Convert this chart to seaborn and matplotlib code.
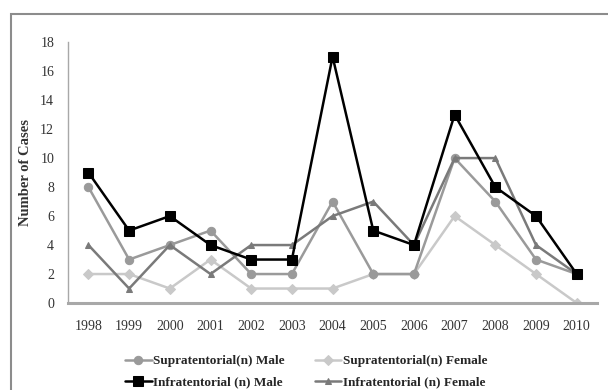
import matplotlib
matplotlib.use("Agg")
import matplotlib.pyplot as plt
import seaborn as sns
import pandas as pd
from matplotlib.patches import Rectangle

years = ["1998", "1999", "2000", "2001", "2002", "2003", "2004",
         "2005", "2006", "2007", "2008", "2009", "2010"]
supra_male = [8, 3, 4, 5, 2, 2, 7, 2, 2, 10, 7, 3, 2]
supra_female = [2, 2, 1, 3, 1, 1, 1, 2, 2, 6, 4, 2, 0]
infra_male = [9, 5, 6, 4, 3, 3, 17, 5, 4, 13, 8, 6, 2]
infra_female = [4, 1, 4, 2, 4, 4, 6, 7, 4, 10, 10, 4, 2]

series_names = ["Supratentorial(n) Male", "Supratentorial(n) Female",
                "Infratentorial (n) Male", "Infratentorial (n) Female"]
series_vals = [supra_male, supra_female, infra_male, infra_female]

rows = []
for name, vals in zip(series_names, series_vals):
    for i, v in enumerate(vals):
        rows.append({"idx": i, "value": v, "series": name})
df = pd.DataFrame(rows)

sns.set_style("white")
plt.rcParams["font.family"] = ["Liberation Serif", "DejaVu Serif"]

fig = plt.figure(figsize=(6.08, 3.9), dpi=100)
ax = fig.add_axes([0.112, 0.223, 0.870, 0.669])

palette = {series_names[0]: "#9a9a9a", series_names[1]: "#c9c9c9",
           series_names[2]: "#000000", series_names[3]: "#7a7a7a"}
markers = {series_names[0]: "o", series_names[1]: "D",
           series_names[2]: "s", series_names[3]: "^"}
msize = {series_names[0]: 6, series_names[1]: 5,
         series_names[2]: 7, series_names[3]: 5}
zorders = {series_names[1]: 2, series_names[0]: 3, series_names[3]: 4, series_names[2]: 5}

for name in series_names:
    sub = df[df["series"] == name]
    sns.lineplot(data=sub, x="idx", y="value", ax=ax, color=palette[name],
                 marker=markers[name], markersize=msize[name],
                 markeredgecolor=palette[name],
                 linewidth=1.8, label=name, zorder=zorders[name])

ax.set_xlim(-0.5, 12.5)
ax.set_ylim(0, 18)
ax.set_yticks(range(0, 19, 2))
ax.set_yticklabels([str(v) for v in range(0, 19, 2)], fontsize=10, color="#333333")
ax.set_xticks(range(13))
ax.set_xticklabels(years, fontsize=10, color="#333333")
ax.set_xticks([i - 0.5 for i in range(14)], minor=True)
ax.tick_params(axis="x", which="major", length=0, pad=12)
ax.tick_params(axis="x", which="minor", length=4, color="#777777", direction="out", width=1)
ax.tick_params(axis="y", length=4, color="#999999", direction="out", width=1, pad=6)
ax.set_xlabel("")
ax.set_ylabel("Number of Cases", fontsize=10.5, fontweight="bold", color="#333333")
ax.yaxis.set_label_coords(-0.068, 0.5)

for s in ["top", "right"]:
    ax.spines[s].set_visible(False)
ax.spines["left"].set_color("#a8a8a8")
ax.spines["left"].set_linewidth(1.0)
ax.spines["bottom"].set_color("#a8a8a8")
ax.spines["bottom"].set_linewidth(2.2)

handles, labels = ax.get_legend_handles_labels()
order = [0, 2, 1, 3]
leg = fig.legend([handles[i] for i in order], [labels[i] for i in order],
                 ncol=2, loc="upper left", bbox_to_anchor=(0.206, 0.090),
                 frameon=False, prop={"family": "Liberation Serif", "weight": "bold", "size": 9.5},
                 handlelength=2.0, handletextpad=0.1, columnspacing=2.3,
                 labelspacing=0.7, borderaxespad=0, borderpad=0)
ax.get_legend().remove()

fig.patches.append(Rectangle((11 / 608, -0.1), 1.2, 1.1 - 14 / 390,
                             transform=fig.transFigure, fill=False,
                             edgecolor="#8c8c8c", linewidth=1.5))

fig.savefig("out.png", dpi=100)
